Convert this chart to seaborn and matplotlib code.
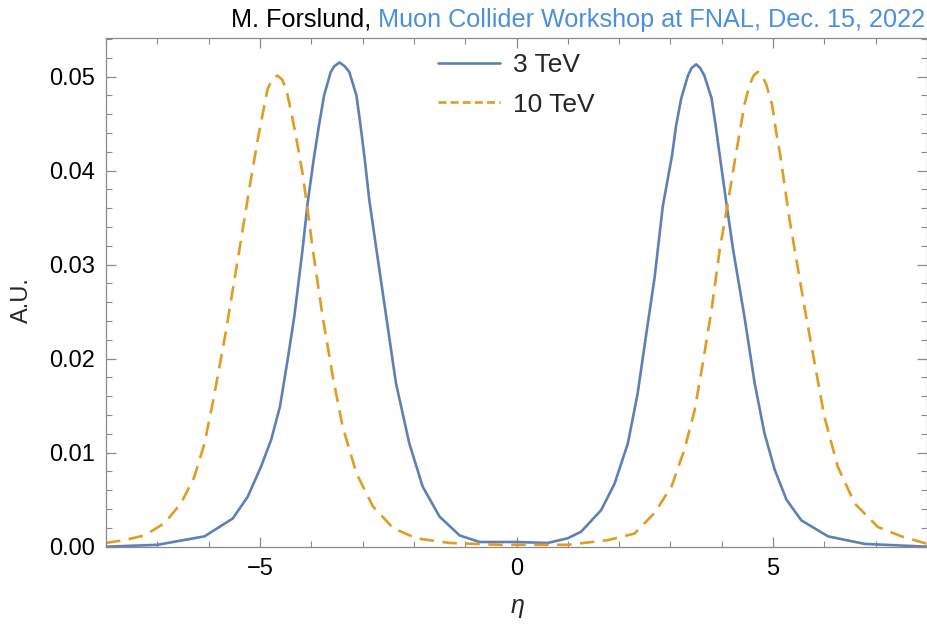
import matplotlib
matplotlib.use("Agg")
import matplotlib.pyplot as plt
import seaborn as sns
import pandas as pd
from matplotlib.ticker import MultipleLocator

# ---- data ----
eta_3tev = [-8.0, -7.0, -6.08, -5.53, -5.24, -4.98, -4.78, -4.61, -4.46, -4.33, -4.17,
            -4.07, -3.95, -3.85, -3.75, -3.62, -3.55, -3.45, -3.35, -3.26, -3.12, -3.04, -2.96,
            -2.87, -2.73, -2.54, -2.35, -2.09, -1.83, -1.5, -1.11, -0.72, 0.0, 0.61, 1.0, 1.26,
            1.65, 1.91, 2.17, 2.36, 2.53, 2.69, 2.85, 3.03, 3.11, 3.21, 3.34, 3.41, 3.50, 3.58,
            3.66, 3.80, 3.88, 3.96, 4.09, 4.22, 4.44, 4.64, 4.83, 5.03, 5.26, 5.55, 6.07, 6.78, 8.0]
au_3tev = [0.0, 0.0002, 0.0011, 0.003, 0.0053, 0.0085, 0.0114, 0.0149, 0.0199, 0.0245, 0.0316,
           0.0366, 0.0413, 0.0448, 0.0480, 0.0505, 0.0511, 0.0515, 0.0511, 0.0505, 0.0480, 0.0448, 0.0413,
           0.0369, 0.0316, 0.0245, 0.0174, 0.011, 0.0064, 0.0032, 0.0012, 0.0005, 0.0005, 0.0004, 0.0009, 0.0016,
           0.0039, 0.0067, 0.011, 0.0163, 0.0227, 0.0286, 0.0362, 0.0416, 0.0448, 0.0477, 0.0501, 0.0509, 0.0513, 0.0509,
           0.0501, 0.0477, 0.0448, 0.0416, 0.0365, 0.0316, 0.0245, 0.0174, 0.0121, 0.0082, 0.005, 0.0028, 0.0011, 0.0003, 0.0]

eta_10tev = [-8.0, -7.64, -7.25, -6.86, -6.54, -6.28, -6.08, -5.92, -5.79, -5.66, -5.53, -5.40,
             -5.2, -5.04, -4.94, -4.85, -4.76, -4.66, -4.57, -4.49, -4.39, -4.29, -4.17, -4.07,
             -3.97, -3.78, -3.58, -3.39, -3.12, -2.8, -2.41, -1.96, -1.31, -0.33, 1.0, 1.78, 2.3,
             2.69, 3.02, 3.27, 3.47, 3.63, 3.8, 3.96, 4.1, 4.27, 4.35, 4.44, 4.54, 4.62, 4.70,
             4.79, 4.87, 4.98, 5.06, 5.14, 5.32, 5.42, 5.61, 5.81, 6.0, 6.26, 6.59, 7.04, 7.5, 8.0]
au_10tev = [0.0004, 0.0007, 0.0012, 0.0025, 0.0046, 0.0074, 0.011, 0.0153, 0.0191, 0.023, 0.0273, 0.0316,
            0.0383, 0.0434, 0.0462, 0.0487, 0.0497, 0.0501, 0.0497, 0.0487, 0.0462, 0.0434, 0.0397, 0.0358,
            0.0316, 0.0245, 0.0181, 0.0128, 0.0078, 0.0043, 0.002, 0.0009, 0.0004, 0.0002, 0.0002, 0.0007, 0.0014,
            0.0036, 0.0064, 0.0103, 0.0145, 0.0195, 0.0252, 0.0316, 0.036, 0.0416, 0.0441, 0.047, 0.0491, 0.0501, 0.0505,
            0.0501, 0.0491, 0.047, 0.0441, 0.0416, 0.0348, 0.0316, 0.0255, 0.0195, 0.0138, 0.0085, 0.0046, 0.0021, 0.0011, 0.0003]

series_labels = ["3 TeV", "10 TeV"]
title_black = "M. Forslund, "
title_blue = "Muon Collider Workshop at FNAL, Dec. 15, 2022"

# ---- style ----
sns.set_theme(style="ticks")
plt.rcParams["font.family"] = ["Liberation Sans", "DejaVu Sans"]

BLUE = "#5E81B5"
ORANGE = "#E19C24"
FRAME = "#8a8a8a"
FS = 17

fig = plt.figure(figsize=(9.28, 6.24), dpi=100)
ax = fig.add_axes([106 / 928, 77.3 / 624, 822 / 928 - 0.001, 508.7 / 624])

df3 = pd.DataFrame({"eta": eta_3tev, "au": au_3tev})
df10 = pd.DataFrame({"eta": eta_10tev, "au": au_10tev})
sns.lineplot(data=df3, x="eta", y="au", ax=ax, color=BLUE, lw=1.9, label=series_labels[0])
sns.lineplot(data=df10, x="eta", y="au", ax=ax, color=ORANGE, lw=1.9, label=series_labels[1])
for ln in ax.lines:
    ln.set_solid_joinstyle("round")
    ln.set_dash_joinstyle("round")
ax.lines[1].set_linestyle((0, (5.5, 3.2)))

ax.set_xlim(-8, 8)
ax.set_ylim(0, 0.0541)

ax.xaxis.set_minor_locator(MultipleLocator(1))
ax.yaxis.set_minor_locator(MultipleLocator(0.002))
ax.set_yticks([0, 0.01, 0.02, 0.03, 0.04, 0.05])
ax.set_yticklabels(["0.00", "0.01", "0.02", "0.03", "0.04", "0.05"])
ax.set_xticks([-5, 0, 5])
ax.set_xticklabels(["\u22125", "0", "5"])

ax.tick_params(which="both", direction="in", top=True, right=True, color=FRAME,
               labelsize=FS, labelcolor="black")
ax.tick_params(which="major", length=7, width=0.9, pad=8)
ax.tick_params(which="minor", length=4, width=0.8)
for s in ax.spines.values():
    s.set_color(FRAME)
    s.set_linewidth(0.9)

ax.set_xlabel("\u03b7", fontsize=FS + 1, style="italic", va="center")
ax.xaxis.set_label_coords(0.501, -0.117)
ax.set_ylabel("A.U.", fontsize=FS, va="center")
ax.yaxis.set_label_coords(-0.102, 0.485)

leg = ax.legend(loc="upper left", bbox_to_anchor=(0.404, 0.971), frameon=False,
                fontsize=19, handlelength=2.35, handletextpad=0.5, labelspacing=0.6,
                borderpad=0, borderaxespad=0)
leg.get_lines()[1].set_linestyle((0, (3.0, 1.6)))

tb = fig.text(925 / 928, 1 - 27 / 624, title_blue, color="#4A8FE0", fontsize=18.2,
              ha="right", va="baseline")
ax.annotate(title_black, xy=(0, 0), xycoords=tb, ha="right", va="bottom",
            fontsize=18.2, color="black", annotation_clip=False)

fig.savefig("out.png", dpi=100)
